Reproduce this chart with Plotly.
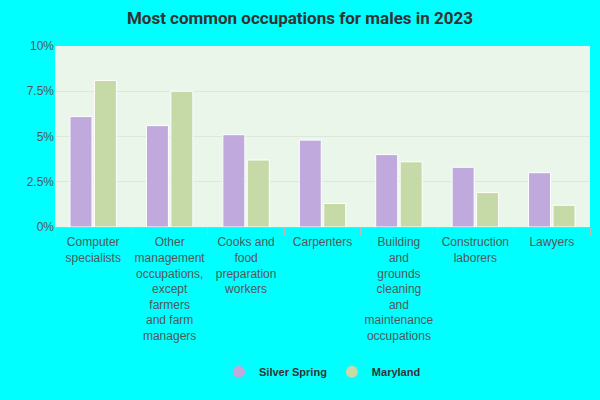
import plotly.graph_objects as go

categories = ["Computer<br>specialists", "Other<br>management<br>occupations,<br>except<br>farmers<br>and farm<br>managers",
              "Cooks and<br>food<br>preparation<br>workers", "Carpenters",
              "Building<br>and<br>grounds<br>cleaning<br>and<br>maintenance<br>occupations",
              "Construction<br>laborers", "Lawyers"]
silver_spring = [6.1, 5.6, 5.1, 4.8, 4.0, 3.3, 3.0]
maryland = [8.1, 7.5, 3.7, 1.3, 3.6, 1.9, 1.2]
tick_vals = [0, 2.5, 5, 7.5, 10]
tick_text = ["0%", "2.5%", "5%", "7.5%", "10%"]
c_ss, c_md = "#c0a9dc", "#c5daa7"

fig = go.Figure()
fig.add_bar(x=categories, y=silver_spring, name="Silver Spring", showlegend=False,
            marker=dict(color=c_ss, line=dict(color="white", width=1)))
fig.add_bar(x=categories, y=maryland, name="Maryland", showlegend=False,
            marker=dict(color=c_md, line=dict(color="white", width=1)))
for nm, c in [("<b>Silver Spring</b>", c_ss), ("<b>Maryland</b>", c_md)]:
    fig.add_scatter(x=[None], y=[None], mode="markers", name=nm,
                    marker=dict(color=c, size=12, symbol="circle"))
fig.update_layout(
    width=600, height=400, paper_bgcolor="#00ffff", plot_bgcolor="#eaf6ea",
    title=dict(text="<b>Most common occupations for males in 2023</b>", x=0.5, y=0.97,
               xanchor="center", font=dict(family="Roboto, Arial", size=17, color="#333")),
    margin=dict(l=55, r=10, t=46, b=173, autoexpand=False),
    barmode="group", bargap=0.36, bargroupgap=0.1,
    font=dict(family="Arial, Liberation Sans", size=12, color="#555"),
    xaxis=dict(ticks="outside", tickson="boundaries", ticklen=8, tickcolor="#bbb", tickangle=0,
               automargin=False, showline=True, linecolor="#bbb", ticklabelstandoff=4,
               tickfont=dict(size=12, color="#555")),
    yaxis=dict(range=[0, 10], tickvals=tick_vals, ticktext=tick_text, automargin=False,
               gridcolor="#dde8dd", zeroline=False, tickfont=dict(size=12, color="#555")),
    legend=dict(orientation="h", x=0.5, xanchor="center", y=-0.72, yanchor="top",
                font=dict(size=11, color="#333")),
)
fig.write_html("out.html", config={"displayModeBar": False},
               post_script="document.body.style.margin='0';document.body.style.overflow='hidden';")
